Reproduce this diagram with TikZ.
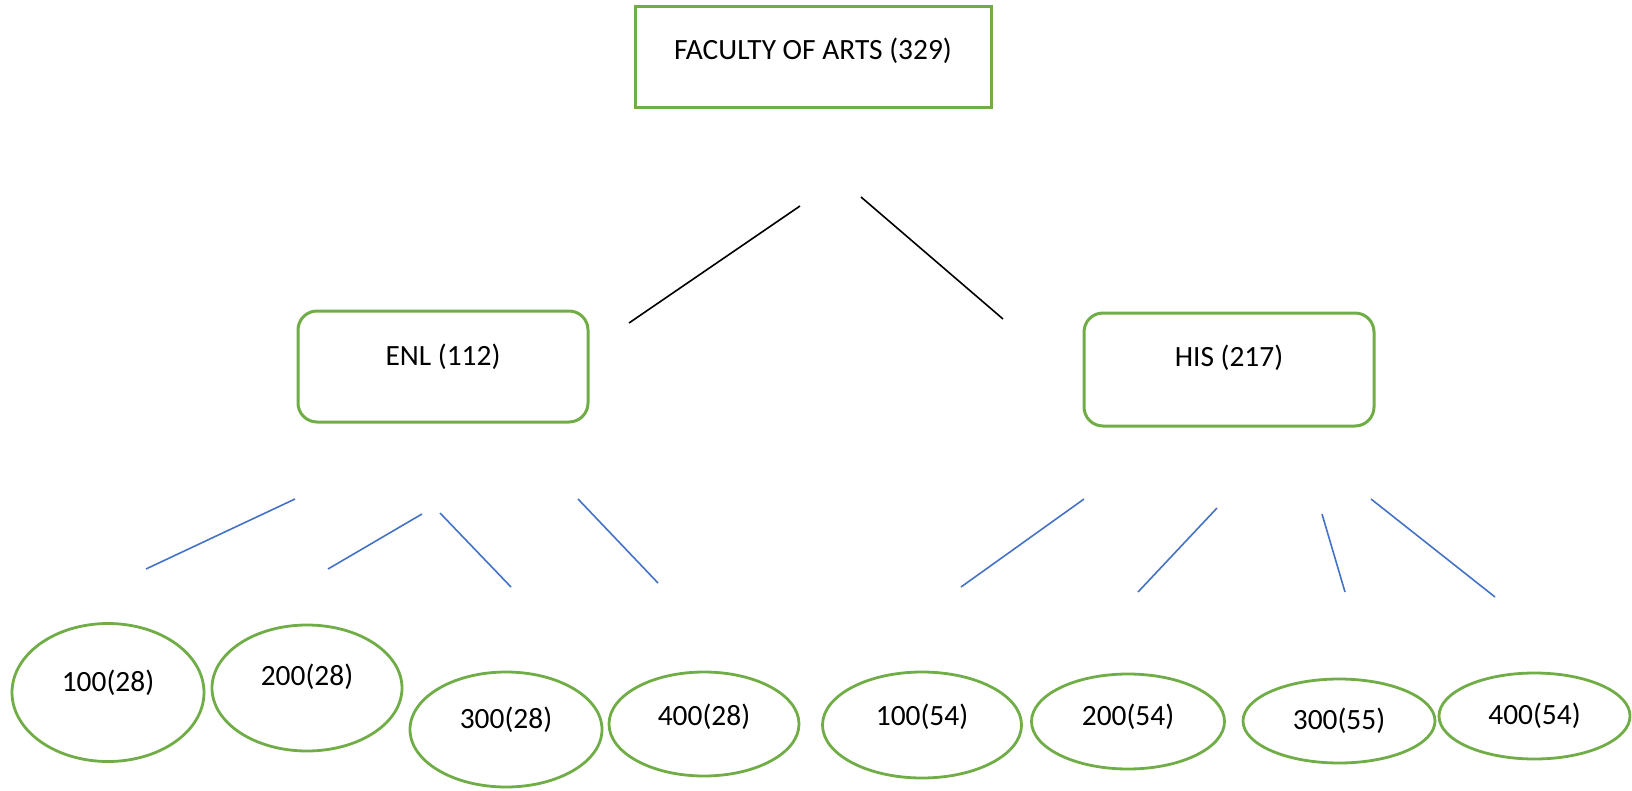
\documentclass[tikz,border=0pt]{standalone}
\usepackage{fontspec}
\setmainfont{Carlito}
\usetikzlibrary{shapes.geometric}
\definecolor{boxgreen}{HTML}{70AD47}
\definecolor{lineblue}{HTML}{4472C4}
\newcommand{\liftup}[2]{\raisebox{#1}[\height][\depth]{#2}}
\tikzset{
  sqbox/.style={draw=boxgreen, line width=1.5pt, rectangle, inner sep=0pt, font=\fontsize{14.7}{17}\selectfont},
  rbox/.style={sqbox, rounded corners=9.5pt},
  oval/.style={draw=boxgreen, line width=1.4pt, ellipse, inner sep=0pt, font=\fontsize{14.7}{17}\selectfont},
  blackline/.style={draw=black, line width=0.8pt},
  blueline/.style={draw=lineblue, line width=0.8pt}
}
\begin{document}
\begin{tikzpicture}[x=0.5pt,y=-0.5pt]
\useasboundingbox (0,0) rectangle (1632,791);
% main boxes
\node[sqbox, minimum width=178pt, minimum height=50.5pt] (fac) at (813,57.5) {\liftup{3.5pt}{FACULTY OF ARTS (329)}};
\node[rbox, minimum width=145pt, minimum height=55.5pt] (enl) at (443,366.5) {\liftup{4.75pt}{ENL (112)}};
\node[rbox, minimum width=145pt, minimum height=56.5pt] (his) at (1229,369.5) {\liftup{5.75pt}{HIS (217)}};
% ellipses
\node[oval, minimum width=96pt, minimum height=69pt] (e1) at (108,692.5) {\liftup{5pt}{100(28)}};
\node[oval, minimum width=95pt, minimum height=63pt] (e2) at (307,688) {\liftup{5.5pt}{200(28)}};
\node[oval, minimum width=96pt, minimum height=57.5pt] (e3) at (506,729.5) {\liftup{4.75pt}{300(28)}};
\node[oval, minimum width=95pt, minimum height=52pt] (e4) at (704,724) {\liftup{3.5pt}{400(28)}};
\node[oval, minimum width=99.5pt, minimum height=53pt] (e5) at (922,725) {\liftup{4pt}{100(54)}};
\node[oval, minimum width=96.5pt, minimum height=47.5pt] (e6) at (1128,721.5) {\liftup{2.25pt}{200(54)}};
\node[oval, minimum width=96pt, minimum height=42pt] (e7) at (1339,721) {300(55)};
\node[oval, minimum width=95.5pt, minimum height=43pt] (e8) at (1534.5,716) {400(54)};
% free line ends
\coordinate (b1a) at (800,206); \coordinate (b1b) at (629,323);
\coordinate (b2a) at (861,197); \coordinate (b2b) at (1003,319);
\coordinate (l1a) at (295,499); \coordinate (l1b) at (146,569);
\coordinate (l2a) at (422,514); \coordinate (l2b) at (328,569);
\coordinate (l3a) at (440,513); \coordinate (l3b) at (511,587);
\coordinate (l4a) at (578,499); \coordinate (l4b) at (658,583);
\coordinate (l5a) at (1084,499); \coordinate (l5b) at (961,587);
\coordinate (l6a) at (1217,508); \coordinate (l6b) at (1138,592);
\coordinate (l7a) at (1322,514); \coordinate (l7b) at (1345,592);
\coordinate (l8a) at (1371,499); \coordinate (l8b) at (1495,597);
% lines
\draw[blackline] (b1a) -- (b1b);
\draw[blackline] (b2a) -- (b2b);
\draw[blueline] (l1a) -- (l1b);
\draw[blueline] (l2a) -- (l2b);
\draw[blueline] (l3a) -- (l3b);
\draw[blueline] (l4a) -- (l4b);
\draw[blueline] (l5a) -- (l5b);
\draw[blueline] (l6a) -- (l6b);
\draw[blueline] (l7a) -- (l7b);
\draw[blueline] (l8a) -- (l8b);
\end{tikzpicture}
\end{document}
